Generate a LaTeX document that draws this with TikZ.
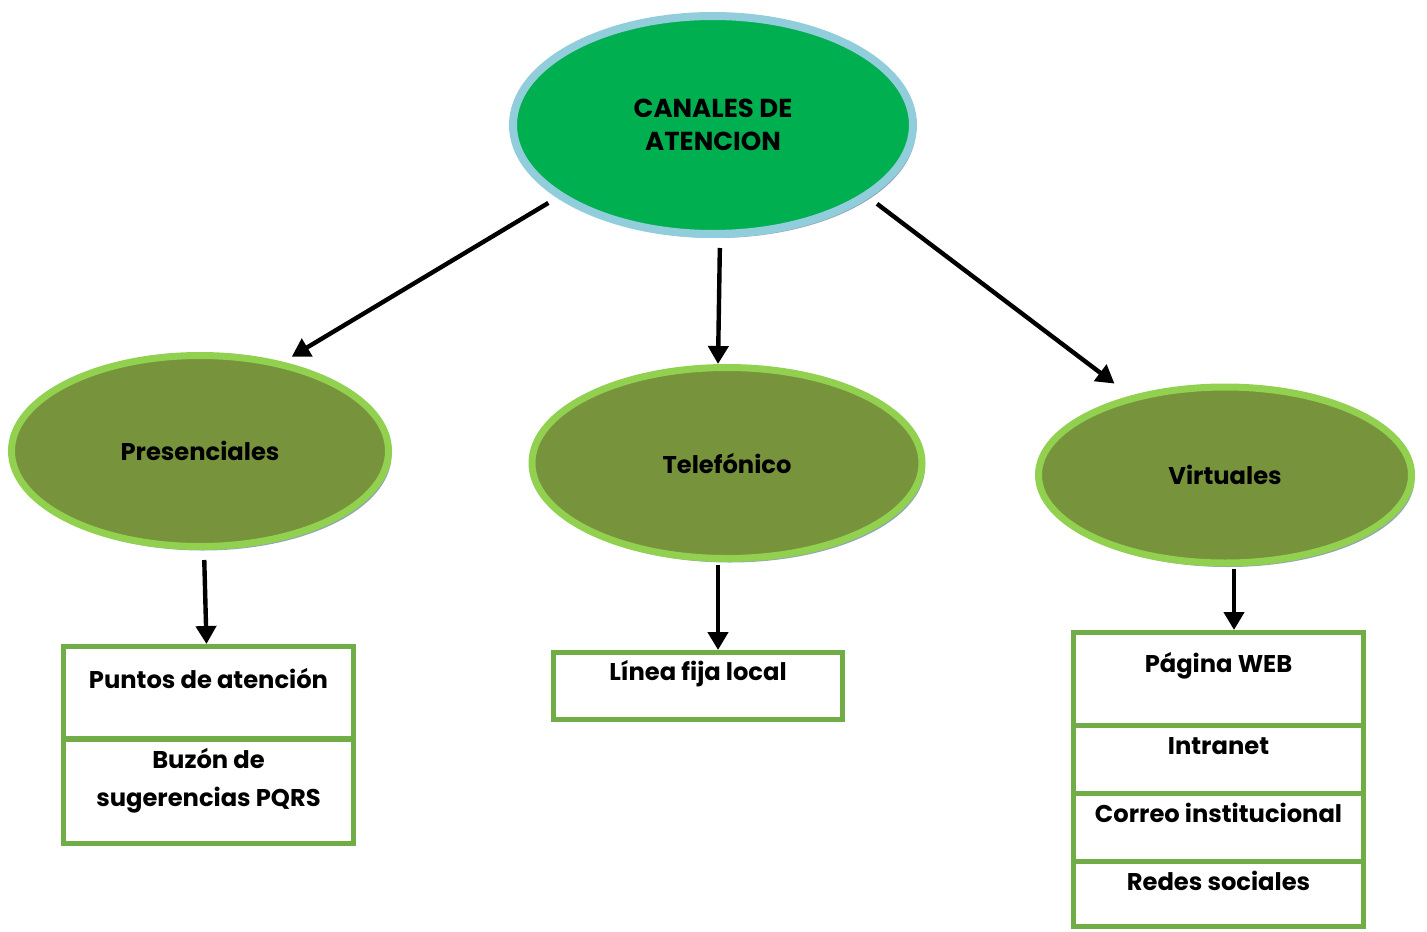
\documentclass[tikz,border=0pt]{standalone}
\usepackage{fontspec}
\setmainfont{Poppins}
\usetikzlibrary{shapes.geometric,arrows.meta,shadows}
\definecolor{topfill}{HTML}{00B050}
\definecolor{topline}{HTML}{92CDDC}
\definecolor{subfill}{HTML}{77933C}
\definecolor{subline}{HTML}{92D050}
\definecolor{boxline}{HTML}{70AD47}
\definecolor{shadowgray}{HTML}{8FA7B3}
\tikzset{
	lbl/.style={font=\bfseries\fontsize{12.1}{19}\selectfont, align=center, inner sep=0pt},
	mainell/.style={ellipse, draw=topline, line width=4pt, fill=topfill, lbl,
		font=\bfseries\fontsize{13}{16.5}\selectfont,
		drop shadow={shadow xshift=1.5pt, shadow yshift=-2pt, fill=shadowgray, opacity=1}},
	subell/.style={ellipse, draw=subline, line width=3.5pt, fill=subfill, lbl,
		drop shadow={shadow xshift=1.5pt, shadow yshift=-2pt, fill=shadowgray, opacity=1}},
	cell/.style={rectangle, draw=boxline, line width=2.5pt, minimum width=145pt, inner sep=0pt},
	arr/.style={-{Triangle[length=9pt,width=10pt]}, line width=2.2pt, shorten <=5pt}
}
\begin{document}
\begin{tikzpicture}[x=0.5pt, y=-0.5pt]
	\useasboundingbox (0,0) rectangle (1427,931);

	\node[mainell, minimum width=200pt, minimum height=109pt] (canales) at (713,125) {CANALES DE\\ATENCION};
	\node[subell, minimum width=188.5pt, minimum height=95.5pt] (pres) at (200,451) {Presenciales};
	\node[subell, minimum width=195pt, minimum height=95.5pt] (tel) at (727,463) {Telefónico};
	\node[subell, minimum width=186.5pt, minimum height=88pt] (virt) at (1225,475) {Virtuales};

	\node[cell, minimum height=46pt] (puntos) at (208.5,692.5) {};
	\node[cell, minimum height=52pt] (buzon) at (208.5,791) {};
	\node[cell, minimum width=144.5pt, minimum height=33.5pt] (linea) at (698,686) {};
	\node[cell, minimum height=46.25pt] (pagina) at (1218.5,678.75) {};
	\node[cell, minimum height=34pt] (intranet) at (1218.5,759) {};
	\node[cell, minimum height=34pt] (correo) at (1218.5,827) {};
	\node[cell, minimum height=32.75pt] (redes) at (1218.5,893.75) {};

	\node[lbl] (tpuntos) at ([yshift=-17pt]puntos.north) {Puntos de atención};
	\node[lbl] (tbuzon) at ([yshift=-22pt]buzon.north) {Buzón de\\sugerencias PQRS};
	\node[lbl] (tlinea) at ([yshift=-12pt]linea.north) {Línea fija local};
	\node[lbl] (tpagina) at ([yshift=-18pt]pagina.north) {Página WEB};
	\node[lbl] (tintranet) at ([yshift=-12pt]intranet.north) {Intranet};
	\node[lbl] (tcorreo) at ([yshift=-11pt]correo.north) {Correo institucional};
	\node[lbl] (tredes) at ([yshift=-11pt]redes.north) {Redes sociales};

	\path [arr] (canales.205) edge[shorten >=5pt] (pres.47);
	\path [arr] ([xshift=3.5pt]canales.south) edge ([xshift=-4.5pt]tel.north);
	\path [arr] (canales.-25) edge[shorten >=10pt] (virt.140);
	\path [arr] ([xshift=2pt]pres.south) edge ([xshift=-1pt]puntos.north);
	\path [arr, shorten <=1.5pt] ([xshift=-4.5pt]tel.south) edge ([xshift=10pt]linea.north);
	\path [arr, shorten <=1pt] ([xshift=4.5pt]virt.south) edge ([xshift=7.75pt]pagina.north);
\end{tikzpicture}
\end{document}
